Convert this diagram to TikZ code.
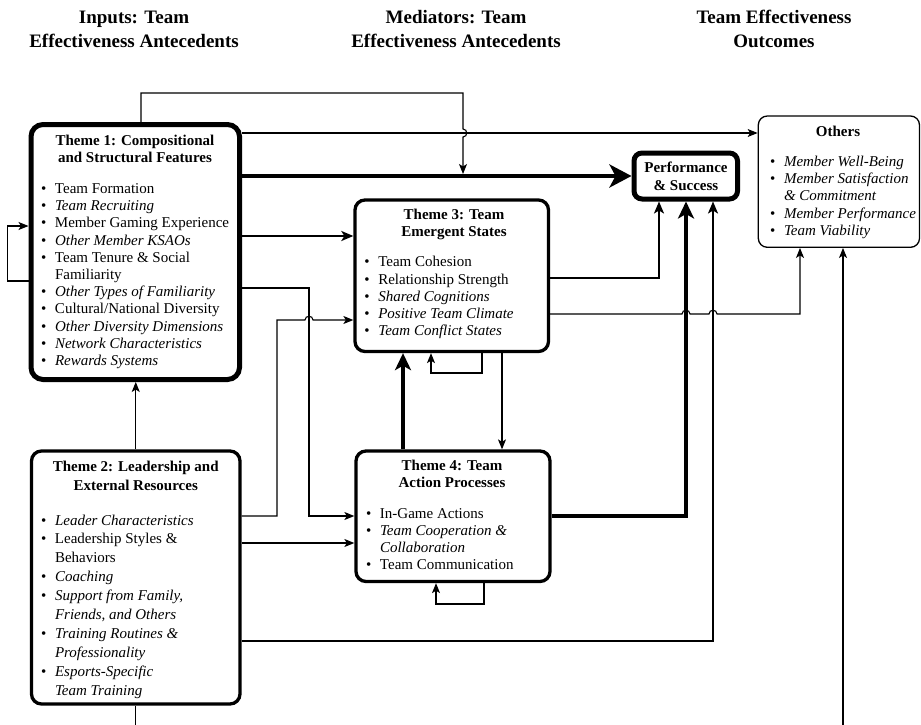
\documentclass[tikz,border=0pt]{standalone}
\usepackage{fontspec}
\setmainfont{Liberation Serif}
\usetikzlibrary{arrows.meta}

\newcommand{\bx}[1]{\makebox[14pt][l]{\textbullet}#1}
\newcommand{\bxc}[1]{\hspace*{14pt}#1}
\newcommand{\lst}[2]{\parbox[t]{220pt}{\raggedright\fontsize{15}{#1}\selectfont #2}}
\newcommand{\ttl}[2]{\parbox[t]{220pt}{\centering\fontsize{15}{#1}\selectfont\bfseries #2}}
\newcommand{\hdr}[1]{\parbox[t]{300pt}{\centering\fontsize{19}{24}\selectfont\bfseries #1}}

\begin{document}
\begin{tikzpicture}[x=1pt,y=-1pt,
  box/.style={draw, rounded corners=10pt, inner sep=0pt, line width=3.3pt},
  thickbox/.style={box, line width=5pt, rounded corners=12pt},
  thinbox/.style={box, line width=1.3pt, rounded corners=9pt},
  txt/.style={inner sep=0pt, outer sep=0pt},
  thinc/.style={line width=1.1pt, -{Stealth[length=10pt,width=8pt,inset=2.5pt]}},
  medc/.style={line width=2pt, -{Stealth[length=12pt,width=10pt,inset=3pt]}},
  thickc/.style={line width=3.2pt, -{Stealth[length=17pt,width=16pt,inset=4.5pt]}},
  heavyc/.style={line width=4.5pt, -{Stealth[length=22pt,width=23pt,inset=6pt]}},
  plain/.style={line width=1.1pt}]
\useasboundingbox (0,0) rectangle (921,725);
\fill[white] (0,0) rectangle (921,725);
\clip (0,0) rectangle (921,725);

% headers
\node[txt, anchor=base] (h1) at (134,23.5) {\hdr{Inputs: Team\\Effectiveness Antecedents}};
\node[txt, anchor=base] (h2) at (456,23.5) {\hdr{Mediators: Team\\Effectiveness Antecedents}};
\node[txt, anchor=base] (h3) at (774,23.5) {\hdr{Team Effectiveness\\Outcomes}};

% boxes
\node[thickbox, minimum width=208.5pt, minimum height=255pt] (t1) at (135.25,252) {};
\node[box, minimum width=208.5pt, minimum height=253pt] (t2) at (135.75,577.5) {};
\node[box, minimum width=193.5pt, minimum height=151.5pt] (t3) at (451.75,275.75) {};
\node[box, minimum width=194pt, minimum height=130.5pt] (t4) at (453,516.25) {};
\node[thickbox, rounded corners=8pt, minimum width=103.5pt, minimum height=46pt] (ps) at (685.75,176) {};
\node[thinbox, minimum width=161.2pt, minimum height=131.3pt] (ot) at (838.9,181.65) {};

% texts
\node[txt, anchor=base] (t1h) at (135,145) {\ttl{17}{Theme 1: Compositional\\and Structural Features}};
\node[txt, anchor=base west] (t1l) at (41,193.3) {\lst{17.24}{\bx{Team Formation}\\
\bx{\textit{Team Recruiting}}\\
\bx{Member Gaming Experience}\\
\bx{\textit{Other Member KSAOs}}\\
\bx{Team Tenure \& Social}\\
\bxc{Familiarity}\\
\bx{\textit{Other Types of Familiarity}}\\
\bx{Cultural/National Diversity}\\
\bx{\textit{Other Diversity Dimensions}}\\
\bx{\textit{Network Characteristics}}\\
\bx{\textit{Rewards Systems}}}};

\node[txt, anchor=base] (t2h) at (135.75,471.7) {\ttl{19}{Theme 2: Leadership and\\External Resources}};
\node[txt, anchor=base west] (t2l) at (41,525) {\lst{18.9}{\bx{\textit{Leader Characteristics}}\\
\bx{Leadership Styles \&}\\
\bxc{Behaviors}\\
\bx{\textit{Coaching}}\\
\bx{\textit{Support from Family,}}\\
\bxc{\textit{Friends, and Others}}\\
\bx{\textit{Training Routines \&}}\\
\bxc{\textit{Professionality}}\\
\bx{\textit{Esports-Specific}}\\
\bxc{\textit{Team Training}}}};

\node[txt, anchor=base] (t3h) at (454,219.3) {\ttl{17.4}{Theme 3: Team\\Emergent States}};
\node[txt, anchor=base west] (t3l) at (364.3,266.7) {\lst{17.3}{\bx{Team Cohesion}\\
\bx{Relationship Strength}\\
\bx{\textit{Shared Cognitions}}\\
\bx{\textit{Positive Team Climate}}\\
\bx{\textit{Team Conflict States}}}};

\node[txt, anchor=base] (t4h) at (452,470) {\ttl{17.3}{Theme 4: Team\\Action Processes}};
\node[txt, anchor=base west] (t4l) at (366,518.3) {\lst{17.2}{\bx{In-Game Actions}\\
\bx{\textit{Team Cooperation \&}}\\
\bxc{\textit{Collaboration}}\\
\bx{Team Communication}}};

\node[txt, anchor=base] (psh) at (686,172.7) {\ttl{18}{Performance\\\& Success}};

\node[txt, anchor=base] (oth) at (838,136.7) {\ttl{17}{Others}};
\node[txt, anchor=base west] (otl) at (770,166.7) {\lst{17.1}{\bx{\textit{Member Well-Being}}\\
\bx{\textit{Member Satisfaction}}\\
\bxc{\textit{\& Commitment}}\\
\bx{\textit{Member Performance}}\\
\bx{\textit{Team Viability}}}};

% coordinates
\coordinate (a1) at (141,93);
\coordinate (a2) at (463,93);
\coordinate (hz) at (463,174);
\coordinate (y133) at (600,133);
\coordinate (y176) at (600,176);
\coordinate (y236) at (300,236);
\coordinate (b1) at (309,288);
\coordinate (b2) at (309,516);
\coordinate (c1) at (277,516);
\coordinate (c2) at (277,320);
\coordinate (y543) at (300,543);
\coordinate (d1) at (713,641);
\coordinate (e1) at (659,278);
\coordinate (f1) at (800,314);
\coordinate (g1) at (686,516);
\coordinate (k1) at (403,400);
\coordinate (m1) at (482,373);
\coordinate (m2) at (431,373);
\coordinate (n1) at (502,400);
\coordinate (p1) at (484,604);
\coordinate (p2) at (436,604);
\coordinate (l1) at (7.3,281);
\coordinate (l2) at (7.3,226);
\coordinate (q1) at (135.75,760);
\coordinate (q2) at (843,760);

% connectors
\draw[thinc] (t1.north -| a1) -- (a1) -- (a2) -- (463,129) .. controls (468,129) and (468,137) .. (463,137) -- (hz);
\draw[thinc] (t1.east |- y133) -- (ot.west |- y133);
\draw[heavyc] (t1.east |- y176) -- (ps.west |- y176);
\draw[medc] (t1.east |- y236) -- (t3.west |- y236);
\draw[thinc] (t1.east |- b1) -- (b1) -- (b2) -- (t4.west |- b2);
\draw[thinc] (t2.east |- c1) -- (c1) -- (c2) -- (305,320) .. controls (305,315) and (313,315) .. (313,320) -- (t3.west |- c2);
\draw[thinc] (t2.east |- y543) -- (t4.west |- y543);
\draw[medc] (t2.east |- d1) -- (d1) -- (ps.south -| d1);
\draw[medc] (t3.east |- e1) -- (e1) -- (ps.south -| e1);
\draw[thinc] (t3.east |- f1) -- (682,314) .. controls (682,309) and (690,309) .. (690,314) -- (709,314) .. controls (709,309) and (717,309) .. (717,314) -- (f1) -- (ot.south -| f1);
\draw[thickc] (t4.east |- g1) -- (g1) -- (ps.south -| g1);
\draw[thickc] (t4.north -| k1) -- (t3.south -| k1);
\draw[thinc] (t3.south -| m1) -- (m1) -- (m2) -- (t3.south -| m2);
\draw[thinc] (t3.south -| n1) -- (t4.north -| n1);
\draw[thinc] (t4.south -| p1) -- (p1) -- (p2) -- (t4.south -| p2);
\draw[thinc] (t2.north) -- (t1.south -| t2.north);
\draw[thinc] (t1.west |- l1) -- (l1) -- (l2) -- (t1.west |- l2);
\draw[thinc] (t2.south) -- (q1) -- (q2) -- (ot.south -| q2);
\end{tikzpicture}
\end{document}
